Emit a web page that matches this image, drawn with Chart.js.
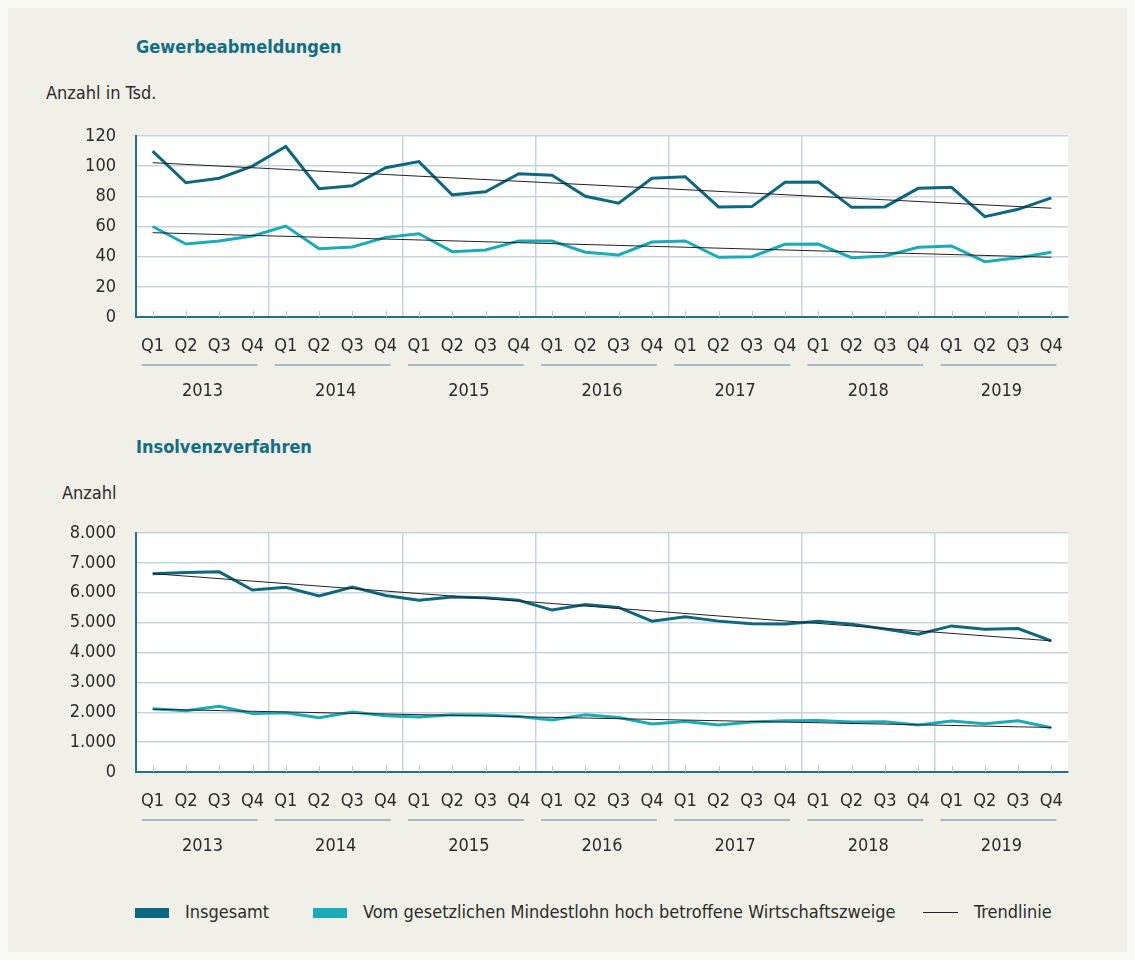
<!DOCTYPE html>
<html lang="de">
<head>
<meta charset="UTF-8">
<title>Gewerbeabmeldungen und Insolvenzverfahren</title>
<script src="https://cdn.jsdelivr.net/npm/chart.js@4.4.1/dist/chart.umd.min.js"></script>
<style>
  body { margin: 0; background: #f8f8f5; font-family: 'Liberation Sans Narrow', 'DejaVu Sans Condensed', sans-serif; color: #2b2b2b; }
  #panel { position: absolute; left: 8px; top: 8px; width: 1119px; height: 944px; background: #f0efe8; }
  .txt { position: absolute; font-size: 18px; line-height: 24px; white-space: nowrap; }
  .title { font-weight: bold; color: #136d85; }
  .wrap { position: absolute; left: 40px; width: 1060px; }
  .sw { position: absolute; width: 34px; height: 10px; }
</style>
</head>
<body>
<div id="panel"></div>

<div class="txt title" style="left:136px; top:35px;">Gewerbeabmeldungen</div>
<div class="txt" style="left:46px; top:81px;">Anzahl in Tsd.</div>
<div class="wrap" style="top:120px; height:290px;"><canvas id="chartTop"></canvas></div>

<div class="txt title" style="left:136px; top:435px;">Insolvenzverfahren</div>
<div class="txt" style="left:62px; top:481px;">Anzahl</div>
<div class="wrap" style="top:517px; height:348px;"><canvas id="chartBottom"></canvas></div>

<!-- Legende -->
<div class="sw" style="left:135px; top:908px; background:#0d6780;"></div>
<div class="txt" style="left:185px; top:900px;" id="lg1"></div>
<div class="sw" style="left:313px; top:908px; background:#1aabb8;"></div>
<div class="txt" style="left:363px; top:900px;" id="lg2"></div>
<div style="position:absolute; left:923px; top:912px; width:35px; height:1px; background:#222;"></div>
<div class="txt" style="left:974px; top:900px;" id="lg3"></div>

<script>
// Daten
const years = ['2013', '2014', '2015', '2016', '2017', '2018', '2019'];
const quarters = ['Q1', 'Q2', 'Q3', 'Q4'];
const seriesNames = ['Insgesamt', 'Vom gesetzlichen Mindestlohn hoch betroffene Wirtschaftszweige', 'Trendlinie'];

// Gewerbeabmeldungen, Anzahl in Tsd.
const abmeldungenGesamt = [110, 89, 92, 100, 113, 85, 87, 99, 103, 81, 83, 95, 94, 80, 75.5, 92, 93, 73, 73.2, 89.3, 89.5, 72.7, 73, 85.3, 86, 66.5, 71.4, 79];
const abmeldungenMindestlohn = [60, 48.4, 50.4, 53.7, 60.3, 45.3, 46.4, 52.8, 55.2, 43.3, 44.4, 50.4, 50.4, 42.9, 41.1, 49.7, 50.4, 39.6, 40, 48.2, 48.4, 39.3, 40.4, 46.2, 47.1, 36.7, 39.3, 42.9];
const abmeldungenTrendGesamt = [102.3, 72.1];      // Anfang, Ende
const abmeldungenTrendMindestlohn = [55.9, 39.6];
const abmeldungenTicks = ['0', '20', '40', '60', '80', '100', '120'];

// Insolvenzverfahren, Anzahl
const insolvenzGesamt = [6640, 6680, 6700, 6090, 6180, 5890, 6190, 5910, 5750, 5860, 5830, 5750, 5420, 5610, 5510, 5050, 5200, 5050, 4960, 4950, 5050, 4950, 4790, 4610, 4890, 4780, 4800, 4390];
const insolvenzMindestlohn = [2115, 2050, 2200, 1960, 1980, 1815, 2005, 1880, 1840, 1915, 1905, 1860, 1740, 1915, 1825, 1605, 1690, 1570, 1670, 1715, 1725, 1670, 1680, 1570, 1705, 1615, 1715, 1480];
const insolvenzTrendGesamt = [6640, 4390];
const insolvenzTrendMindestlohn = [2100, 1490];
const insolvenzTicks = ['0', '1.000', '2.000', '3.000', '4.000', '5.000', '6.000', '7.000', '8.000'];

const xLabels = years.flatMap(() => quarters);

const FONT = "'Liberation Sans Narrow', 'DejaVu Sans Condensed', sans-serif";
const DARK = '#0d6780';
const LIGHT = '#1aabb8';
const GRID = '#c6d4e0';
const AXIS = '#22708a';
const TEXT = '#2b2b2b';

document.getElementById('lg1').textContent = seriesNames[0];
document.getElementById('lg2').textContent = seriesNames[1];
document.getElementById('lg3').textContent = seriesNames[2];

// Trendlinie: nur Anfangs- und Endwert, Linie dazwischen zieht Chart.js
function trendData(pair) {
    return xLabels.map((_, i) => i === 0 ? pair[0] : (i === xLabels.length - 1 ? pair[1] : null));
}

// weisser Hintergrund der Zeichenflaeche
const plotBg = {
    id: 'plotBg',
    beforeDraw(chart) {
        const a = chart.chartArea, c = chart.ctx;
        c.save();
        c.fillStyle = '#ffffff';
        c.fillRect(a.left, a.top, a.right - a.left, a.bottom - a.top);
        c.restore();
    }
};

// kleine Striche innen an der x-Achse + Linien unter den Quartalen
const axisMarks = {
    id: 'axisMarks',
    beforeDatasetsDraw(chart) {
        const x = chart.scales.x, c = chart.ctx, bottom = chart.chartArea.bottom;
        c.save();
        c.strokeStyle = '#b7c7d3';
        c.lineWidth = 1;
        x.ticks.forEach((t, i) => {
            const px = Math.round(x.getPixelForTick(i)) + 0.5;
            c.beginPath();
            c.moveTo(px, bottom);
            c.lineTo(px, bottom - 6);
            c.stroke();
        });
        c.restore();
    },
    afterDraw(chart) {
        const x = chart.scales.x, c = chart.ctx;
        const y = x.bottom + 8;
        c.save();
        c.strokeStyle = '#8eaabc';
        c.lineWidth = 1.5;
        years.forEach((yr, i) => {
            c.beginPath();
            c.moveTo(x.getPixelForTick(i * 4) - 11, y);
            c.lineTo(x.getPixelForTick(i * 4 + 3) + 5, y);
            c.stroke();
        });
        c.restore();
    }
};

function makeChart(id, gesamt, mindestlohn, trendGesamt, trendMindestlohn, yMax, step, tickLabels) {
    const ctx = document.getElementById(id).getContext('2d');
    return new Chart(ctx, {
        type: 'line',
        data: {
            labels: xLabels,
            datasets: [
                { label: seriesNames[2], data: trendData(trendGesamt), borderColor: '#222', borderWidth: 1, spanGaps: true, order: 0 },
                { label: seriesNames[2], data: trendData(trendMindestlohn), borderColor: '#222', borderWidth: 1, spanGaps: true, order: 0 },
                { label: seriesNames[0], data: gesamt, borderColor: DARK, borderWidth: 3, order: 1 },
                { label: seriesNames[1], data: mindestlohn, borderColor: LIGHT, borderWidth: 3, order: 1 }
            ]
        },
        options: {
            responsive: true,
            maintainAspectRatio: false,
            animation: false,
            layout: { padding: { top: 16, right: 32, left: 0, bottom: 0 } },
            elements: { point: { radius: 0, hoverRadius: 0 }, line: { tension: 0, borderJoinStyle: 'miter' } },
            plugins: { legend: { display: false }, tooltip: { enabled: false } },
            scales: {
                x: {
                    type: 'category',
                    offset: true,
                    position: 'bottom',
                    grid: {
                        offset: true,
                        drawTicks: false,
                        lineWidth: 1.5,
                        color: (c) => (c.index % 4 === 0 && c.index > 0) ? GRID : 'rgba(0,0,0,0)'
                    },
                    border: { color: AXIS, width: 2 },
                    ticks: { font: { family: FONT, size: 18 }, color: TEXT, padding: 19, maxRotation: 0, autoSkip: false },
                    afterFit: (s) => { s.height = 40; }
                },
                year: {
                    type: 'category',
                    labels: years,
                    offset: true,
                    position: 'bottom',
                    grid: { display: false, drawTicks: false },
                    border: { display: false },
                    ticks: { font: { family: FONT, size: 18 }, color: TEXT, padding: 24, maxRotation: 0 },
                    afterFit: (s) => { s.height = 53; }
                },
                y: {
                    min: 0,
                    max: yMax,
                    ticks: {
                        stepSize: step,
                        font: { family: FONT, size: 18 },
                        color: TEXT,
                        padding: 20,
                        callback: (v) => tickLabels[Math.round(v / step)]
                    },
                    grid: { color: GRID, lineWidth: 1.5, drawTicks: false },
                    border: { color: AXIS, width: 2 },
                    afterFit: (s) => { s.width = 96; s.paddingTop = 0; s.paddingBottom = 0; }
                }
            }
        },
        plugins: [plotBg, axisMarks]
    });
}

makeChart('chartTop', abmeldungenGesamt, abmeldungenMindestlohn, abmeldungenTrendGesamt, abmeldungenTrendMindestlohn, 120, 20, abmeldungenTicks);
makeChart('chartBottom', insolvenzGesamt, insolvenzMindestlohn, insolvenzTrendGesamt, insolvenzTrendMindestlohn, 8000, 1000, insolvenzTicks);
</script>
</body>
</html>
